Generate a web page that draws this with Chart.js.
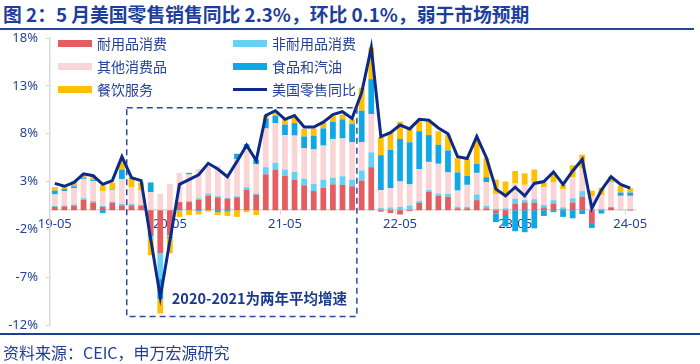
<!DOCTYPE html>
<html lang="zh-CN">
<head>
<meta charset="utf-8">
<title>美国零售销售同比</title>
<script src="https://cdn.jsdelivr.net/npm/chart.js@4.4.1/dist/chart.umd.min.js"></script>
<style>
  html, body { margin: 0; padding: 0; background: #fff; }
  #wrap { position: relative; width: 700px; height: 364px; overflow: hidden; font-family: "Noto Sans CJK SC", "Noto Sans", sans-serif; color: #1F3F96; }
  #title { position: absolute; left: 3px; top: 1px; font-size: 18.8px; font-weight: bold; line-height: 25px; white-space: nowrap; color: #1D3E9B; }
  #rule-top { position: absolute; left: 0; top: 28px; width: 694px; height: 2px; background: #2146A0; }
  #rule-bottom { position: absolute; left: 0; top: 333px; width: 700px; height: 2px; background: #1F3F96; }
  #source { position: absolute; left: 3px; top: 341px; font-size: 16px; line-height: 22px; white-space: nowrap; }
  canvas { position: absolute; left: 0; top: 0; }
  .lg { position: absolute; display: flex; align-items: center; font-size: 14px; line-height: 18px; white-space: nowrap; color: #24429A; }
  .lg i { display: inline-block; width: 34px; margin-right: 5px; }
</style>
</head>
<body>
<div id="wrap">
  <div id="title">图 2：5 月美国零售销售同比 2.3%，环比 0.1%，弱于市场预期</div>
  <div id="rule-top"></div>
  <canvas id="c" width="700" height="364"></canvas>
  <div id="rule-bottom"></div>
  <div id="source">资料来源：CEIC，申万宏源研究</div>
</div>
<script>
// months 2019-05 .. 2024-05
const months = [
  '19-05','19-06','19-07','19-08','19-09','19-10','19-11','19-12',
  '20-01','20-02','20-03','20-04','20-05','20-06','20-07','20-08','20-09','20-10','20-11','20-12',
  '21-01','21-02','21-03','21-04','21-05','21-06','21-07','21-08','21-09','21-10','21-11','21-12',
  '22-01','22-02','22-03','22-04','22-05','22-06','22-07','22-08','22-09','22-10','22-11','22-12',
  '23-01','23-02','23-03','23-04','23-05','23-06','23-07','23-08','23-09','23-10','23-11','23-12',
  '24-01','24-02','24-03','24-04','24-05'];
const xTickLabels = ['19-05', '20-05', '21-05', '22-05', '23-05', '24-05'];
const yTicks = [-12, -7, -2, 3, 8, 13, 18];

// contributions, pct points
const durable = [
  0.35, 0.4, 0.5, 1.1, 0.8, 0.35, 0.8, 0.5,
  0.5, 0.45, -2.7, -4.5, -2.6, 0.85, 0.85, 1.1, 1.5, 1.35, 1.2, 1.35,
  2.15, 1.6, 3.75, 4.25, 3.6, 3.2, 2.6, 2.0, 2.35, 2.7, 2.65, 2.5,
  3.1, 4.5, -0.15, -0.3, -0.45, -0.1, 0.75, 1.9, 1.5, 1.4, 0.2, 0.2,
  1.05, 0.2, -0.35, -0.5, 0.7, 0.8, 0.8, 0.3, 0.7, 0.1, 0.8, 1.4,
  -1.35, 0.05, 0.3, 0, -0.05];
const nondurable = [
  0.1, 0.1, 0.1, 0.15, 0.15, 0.1, 0.1, 0.15,
  0.15, 0.1, -0.4, -2.7, -0.2, -0.1, 0.1, 0.15, 0.25, 0.1, 0.1, 0.1,
  0.25, 0.15, 0.75, 0.7, 0.65, 0.8, 0.7, 0.75, 0.85, 0.7, 0.9, 0.7,
  1.05, 1.55, 0.25, 0.3, 0.35, 0.5, 0.2, 0.2, 0.25, 0.3, 0.15, 0.15,
  0.6, 0.25, 0.15, 0.2, 0.5, 0.25, 0.35, 0.25, 0.35, 0.2, 0.45, 0.6,
  0.1, 0.1, 0.05, 0.05, 0.1];
const otherGoods = [
  1.2, 1.5, 1.7, 2.0, 2.1, 1.55, 1.2, 2.6,
  1.75, 1.5, 1.9, 1.7, 2.75, 3.05, 2.8, 3.05, 2.95, 3.2, 2.5, 3.9,
  4.0, 3.05, 4.05, 4.15, 3.6, 3.8, 3.2, 3.6, 3.55, 4.05, 3.95, 3.9,
  2.95, 4.0, 1.85, 2.0, 2.65, 2.2, 3.35, 2.95, 3.1, 2.25, 1.7, 2.3,
  2.25, 2.5, 1.55, 1.6, 1.6, 1.6, 1.7, 1.85, 1.85, 1.9, 2.2, 2.35,
  1.35, 1.45, 2.55, 1.45, 1.4];
const foodGas = [
  0.4, 0.2, 0.2, 0.1, 0.1, -0.3, 0.05, 1.0,
  0, 0, 1.0, -2.1, -0.1, 0, 0.15, -0.1, 0, -0.2, -0.15, 0.55,
  0.5, 0.5, 1.0, 0.75, 1.1, 1.3, 1.2, 1.45, 1.8, 1.8, 2.0, 1.9,
  3.3, 3.65, 3.65, 4.0, 4.45, 4.4, 3.95, 2.8, 2.0, 2.3, 1.9, 0.95,
  0.95, 0.5, -0.9, -1.2, -2.2, -2.3, -1.9, -0.6, -0.2, -0.7, -0.85, -0.4,
  -0.5, -0.35, 0.05, 0.35, 0.35];
const dining = [
  0.35, 0.4, 0.5, 0.4, 0.5, 0.6, 0.75, 1.05,
  1.0, 0.85, -1.6, -1.5, -1.6, -0.6, -0.5, -0.35, -0.15, -0.3, -0.45, -0.7,
  -0.2, -0.5, 0.35, 0.3, 0.6, 0.6, 0.8, 0.75, 0.6, 0.6, 0.5, 0.5,
  2.4, 3.3, 1.9, 1.9, 1.8, 1.45, 1.05, 1.4, 1.4, 1.65, 1.5, 1.75,
  2.5, 2.0, 1.5, 1.2, 1.3, 1.2, 1.4, 0.5, 1.05, 0.45, 1.25, 1.45,
  0.6, 0.75, 0.55, 0.7, 0.45];
const retailYoY = [
  2.8, 2.5, 2.9, 3.8, 3.6, 2.7, 3.1, 5.6,
  3.4, 3.1, -3.0, -9.1, -3.2, 2.7, 3.2, 3.7, 4.9, 4.3, 3.5, 5.1,
  6.8, 5.2, 9.9, 10.4, 9.5, 9.9, 8.7, 8.7, 9.2, 10.0, 10.3, 9.6,
  12.3, 17.0, 7.7, 8.1, 8.9, 8.5, 9.5, 9.4, 8.6, 8.0, 5.6, 5.4,
  7.7, 5.5, 2.2, 1.5, 2.4, 1.5, 2.8, 3.0, 4.0, 2.7, 4.1, 5.3,
  0.2, 2.1, 3.5, 2.7, 2.3];

const seriesNames = ['耐用品消费', '非耐用品消费', '其他消费品', '食品和汽油', '餐饮服务', '美国零售同比'];
const seriesColors = ['#E35D61', '#66D0F5', '#F9D5D6', '#0FA7E4', '#FFC000', '#0B2A8A'];
const boxLabel = '2020-2021为两年平均增速';

const navy = '#24429A';
const axisGray = '#D9D9D9';
const tickFont = { family: '"Noto Sans", "Liberation Sans", sans-serif', size: 13 };

const barSets = [durable, nondurable, otherGoods, foodGas, dining].map((d, i) => ({
  type: 'bar', label: seriesNames[i], data: d, backgroundColor: seriesColors[i],
  borderWidth: 0, barPercentage: 0.6, categoryPercentage: 1, order: 1,
}));

// dashed frame round the two-year-average period (20-01 .. 21-12)
const avgBox = {
  id: 'avgBox',
  afterDatasetsDraw(chart) {
    const { ctx, scales: { x, y } } = chart;
    const l = x.getPixelForValue(7.5), r = x.getPixelForValue(31.5);
    const t = y.getPixelForValue(10.7), b = y.getPixelForValue(-11.1);
    ctx.save();
    ctx.setLineDash([6, 4]);
    ctx.lineWidth = 1.5;
    ctx.strokeStyle = '#2A4A9E';
    ctx.strokeRect(l, t, r - l, b - t);
    ctx.setLineDash([]);
    ctx.fillStyle = '#1B3A8E';
    ctx.font = 'bold 14.5px "Noto Sans CJK SC", sans-serif';
    ctx.textAlign = 'left';
    ctx.textBaseline = 'middle';
    ctx.fillText(boxLabel, x.getPixelForValue(12.2), y.getPixelForValue(-9.2));
    ctx.restore();
  },
};

new Chart(document.getElementById('c'), {
  data: {
    labels: months,
    datasets: [
      ...barSets,
      { type: 'line', label: seriesNames[5], data: retailYoY, borderColor: seriesColors[5],
        borderWidth: 3, pointRadius: 0, tension: 0, fill: false, order: 0 },
    ],
  },
  options: {
    responsive: false,
    animation: false,
    layout: { padding: { left: 0, right: 65, top: 38, bottom: 39 } },
    plugins: { legend: { display: false }, tooltip: { enabled: false } },
    scales: {
      x: {
        stacked: true, offset: true, position: { y: 0 },
        grid: { offset: true, drawOnChartArea: false, tickLength: 4,
          color: (c) => (c.index % 12 === 0 && c.index > 0 ? axisGray : 'rgba(0,0,0,0)') },
        border: { display: true, color: axisGray, width: 1.5 },
        ticks: { autoSkip: false, maxRotation: 0, padding: 2, color: navy, font: tickFont,
          callback: (v, i) => (xTickLabels.includes(months[i]) ? months[i] : '') },
      },
      y: {
        stacked: true, min: -12, max: 18,
        afterFit: (s) => { s.width = 50; },
        afterBuildTicks: (s) => { s.ticks = yTicks.map((v) => ({ value: v })); },
        grid: { drawOnChartArea: false, tickLength: 4, color: axisGray },
        border: { display: true, color: axisGray, width: 1.5 },
        ticks: { padding: 8, color: navy, font: tickFont, callback: (v) => v + '%' },
      },
    },
  },
  plugins: [avgBox],
});

// legend: two columns, three rows, drawn over the plot
const wrap = document.getElementById('wrap');
seriesNames.forEach((name, i) => {
  const item = document.createElement('div');
  item.className = 'lg';
  item.style.left = (i % 2 ? 233 : 58) + 'px';
  item.style.top = (34 + Math.floor(i / 2) * 23) + 'px';
  const sw = document.createElement('i');
  sw.style.height = i === 5 ? '3px' : '7px';
  sw.style.background = seriesColors[i];
  item.appendChild(sw);
  item.appendChild(document.createTextNode(name));
  wrap.appendChild(item);
});
</script>
</body>
</html>
